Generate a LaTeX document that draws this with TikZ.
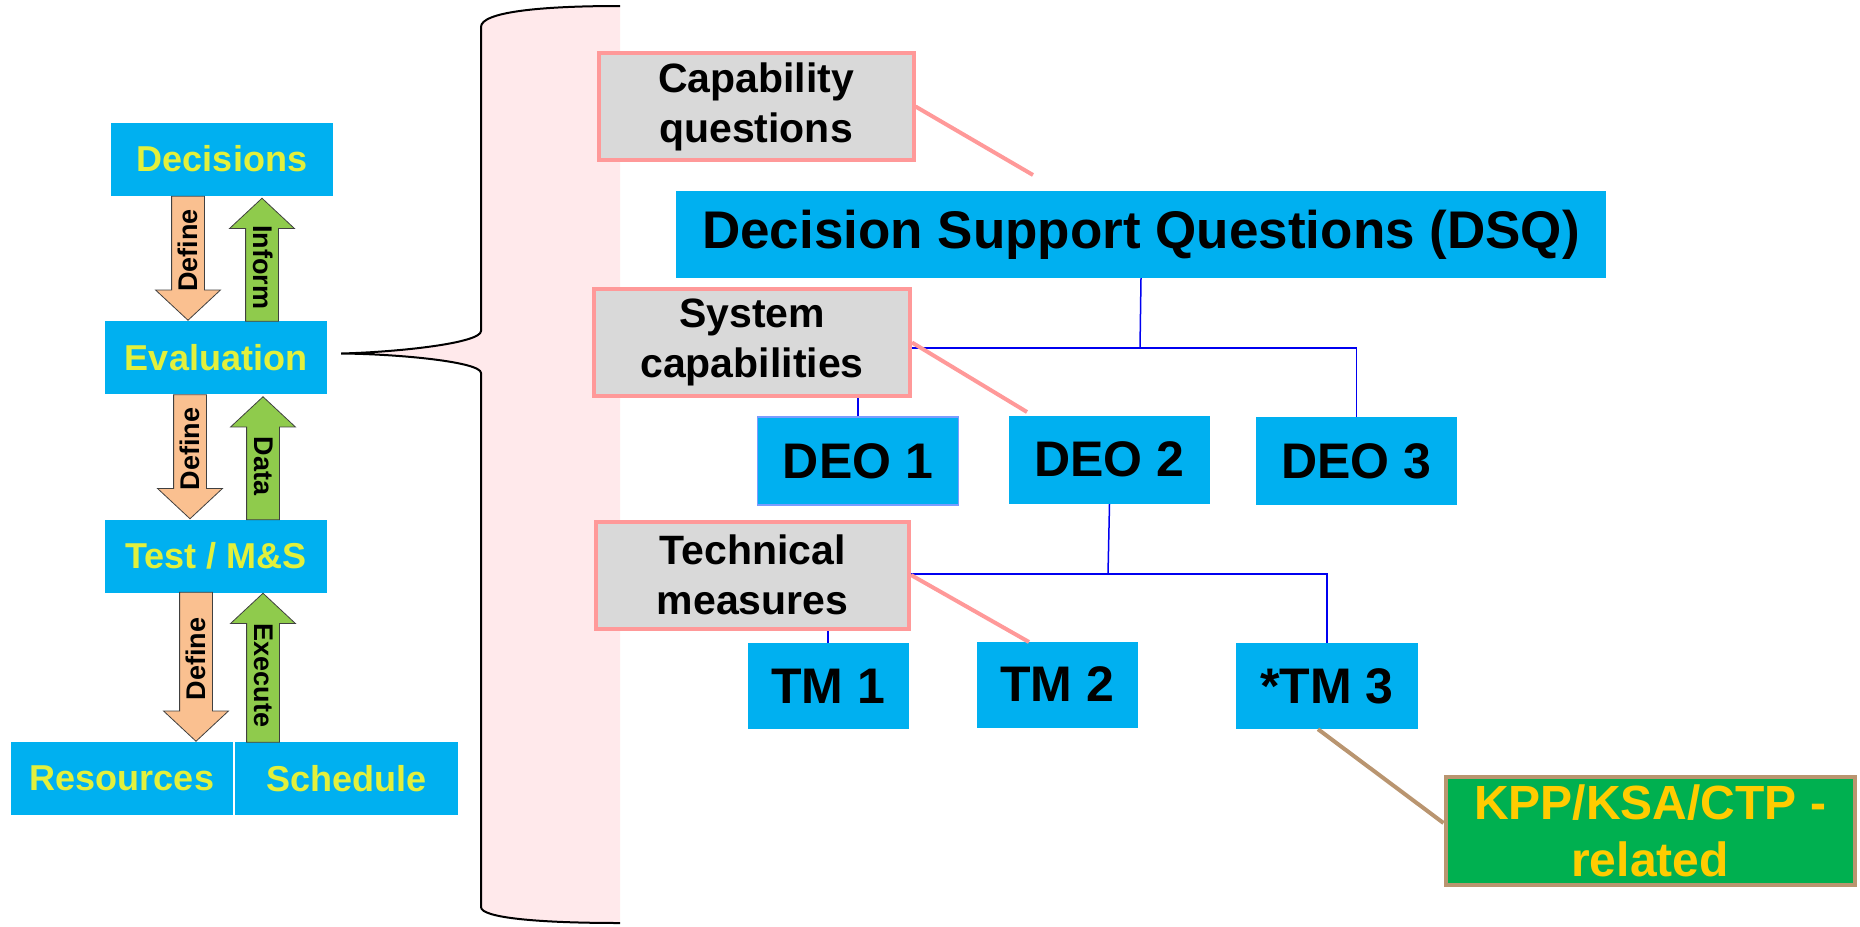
\documentclass[tikz,border=0pt]{standalone}
\usepackage{fontspec}
\setmainfont{Liberation Sans}
\usetikzlibrary{shapes,arrows,positioning,calc,backgrounds}

\definecolor{boxblue}{HTML}{00B0F0}
\definecolor{leftlabel}{HTML}{E2F03C}
\definecolor{notegray}{HTML}{D9D9D9}
\definecolor{notepink}{HTML}{FF9999}
\definecolor{bandpink}{HTML}{FFE9EB}
\definecolor{defineorange}{HTML}{FAC090}
\definecolor{feedgreen}{HTML}{8FCB4C}
\definecolor{arrowedge}{HTML}{404040}
\definecolor{treeblue}{HTML}{0000F0}
\definecolor{deoedge}{HTML}{7B9CFF}
\definecolor{kppgreen}{HTML}{00B050}
\definecolor{kppgold}{HTML}{FFCC00}
\definecolor{kpptan}{HTML}{B99570}

\tikzset{
  stepnode/.style={fill=boxblue, text=leftlabel, inner sep=0pt,
    minimum width=222pt, minimum height=73pt,
    font=\bfseries\fontsize{36}{40}\selectfont},
  blockarrow/.style={single arrow, draw=arrowedge, line width=0.8pt,
    single arrow head extend=16pt, single arrow tip angle=94,
    inner xsep=2pt, inner ysep=5pt, text height=20pt, text depth=2pt,
    anchor=tip, font=\bfseries\fontsize{27}{30}\selectfont},
  downarrow/.style={blockarrow, fill=defineorange, rotate=90, shape border rotate=180},
  uparrow/.style={blockarrow, fill=feedgreen, rotate=-90, shape border rotate=180},
  notebox/.style={fill=notegray, draw=notepink, line width=4pt, align=center,
    inner sep=0pt, minimum width=315pt, minimum height=107pt,
    font=\bfseries\fontsize{41}{50}\selectfont},
  dsqbox/.style={fill=boxblue, inner sep=0pt, minimum width=930pt, minimum height=87pt,
    font=\bfseries\fontsize{53}{60}\selectfont},
  deobox/.style={fill=boxblue, inner sep=0pt, minimum width=201pt, minimum height=88pt,
    font=\bfseries\fontsize{50}{56}\selectfont},
  tmbox/.style={fill=boxblue, inner sep=0pt, minimum width=161pt, minimum height=86pt,
    font=\bfseries\fontsize{50}{56}\selectfont},
  kppbox/.style={fill=kppgreen, draw=kpptan, line width=4pt, text=kppgold, align=center,
    inner sep=0pt, minimum width=409pt, minimum height=108pt,
    font=\bfseries\fontsize{48}{57}\selectfont},
  tree/.style={draw=treeblue, line width=1.5pt},
  callout/.style={draw=notepink, line width=4pt},
  kpplink/.style={draw=kpptan, line width=4pt},
  bracket/.style={draw=black, line width=2pt}
}

\begin{document}
\begin{tikzpicture}[x=1pt,y=-1pt]
\useasboundingbox (0,0) rectangle (1860,926);

% evaluation chain
\node[stepnode] (dec) at (222,159) {Decisions};
\node[stepnode] (eval) at (216,357.5) {Evaluation};
\node[stepnode] (test) at (216,556) {Test / M\&S};
\node[stepnode] (res) at (122,778.5) {Resources};
\node[stepnode, minimum width=223pt] (sched) at (346.5,778.5) {Schedule};

\node[downarrow, minimum height=124pt] (def1) at ($(eval.north)+(-28,0)$) {Define};
\node[uparrow, minimum height=123pt] (inform) at ($(dec.south)+(40,2)$) {Inform};
\node[downarrow, minimum height=124pt] (def2) at ($(test.north)+(-26,0)$) {Define};
\node[uparrow, minimum height=123pt] (data) at ($(eval.south)+(47,2)$) {Data};
\node[downarrow, minimum height=149pt] (def3) at ($(res.north)+(74,0)$) {Define};
\node[uparrow, minimum height=149pt] (exec) at ($(test.south)+(47,0)$) {Execute};

% question tree
\node[notebox] (capq) at (756,106.5) {Capability\\questions};
\node[dsqbox] (dsq) at (1141,234.5) {Decision Support Questions (DSQ)};
\node[notebox, minimum width=316pt] (sysc) at (752,342.5) {System\\capabilities};
\node[deobox, draw=deoedge, line width=1.5pt] (deo1) at (858,461) {DEO 1};
\node[deobox] (deo2) at (1109.5,459.5) {DEO 2};
\node[deobox] (deo3) at (1356.5,461) {DEO 3};
\node[notebox, minimum width=313pt] (techm) at (752.5,575) {Technical\\measures};
\node[tmbox] (tm1) at (828,686) {TM 1};
\node[tmbox] (tm2) at (1057,684.5) {TM 2};
\node[tmbox, minimum width=182pt] (tm3) at (1327,686) {*TM 3};
\node[kppbox] (kpp) at (1650,831) {KPP/KSA/CTP -\\related};

\coordinate (tip) at ($(eval.east)+(14,-4)$);
\coordinate (deobus) at (1140,348);
\coordinate (tmbus) at (1108,574);
\coordinate (capqend) at (1033,175);
\coordinate (syscend) at (1027,412);
\coordinate (techmend) at (1029,642);

\begin{scope}[on background layer]
  \fill[bandpink] (620,6) .. controls (540,6) and (481,12) .. (481,27) -- (481,331)
    .. controls (481,343) and (400,352) .. (tip) .. controls (400,354) and (481,362) .. (481,373)
    -- (481,907) .. controls (481,918) and (540,923) .. (620,923) -- cycle;
  \draw[tree] (dsq.south) -- (deobus);
  \draw[tree] (deo1.north) |- (deobus) -| (deo3.north);
  \draw[tree] (deo2.south) -- (tmbus);
  \draw[tree] (tm1.north) |- (tmbus) -| (tm3.north);
\end{scope}

\draw[bracket] (620,6) .. controls (540,6) and (481,12) .. (481,27) -- (481,331)
  .. controls (481,343) and (400,352) .. (tip) .. controls (400,354) and (481,362) .. (481,373)
  -- (481,907) .. controls (481,918) and (540,923) .. (620,923);

\draw[callout] (capq.east) -- (capqend);
\draw[callout] (sysc.east) -- (syscend);
\draw[callout] (techm.east) -- (techmend);
\draw[kpplink] ($(tm3.south)+(-9,0)$) -- ($(kpp.west)+(0,-8)$);
\end{tikzpicture}
\end{document}
